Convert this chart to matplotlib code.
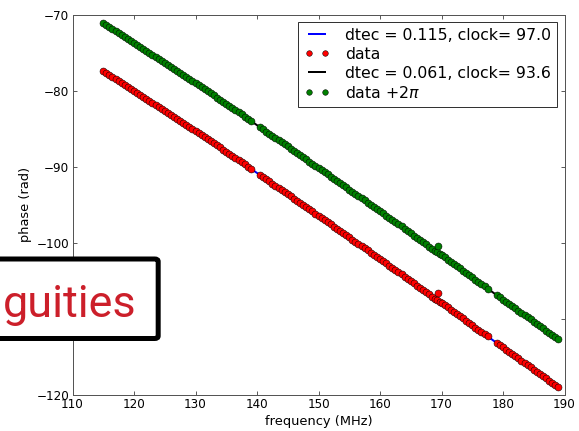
import matplotlib
matplotlib.use("Agg")
import matplotlib.pyplot as plt
from matplotlib.patches import FancyBboxPatch
import numpy as np

# measured phases (rad) versus frequency (MHz)
freq_mhz = [
    115.0, 115.5, 116.0, 116.5, 117.0, 117.5, 118.0, 118.5, 119.0, 119.5,
    120.0, 120.5, 121.0, 121.5, 122.0, 122.5, 123.0, 123.5, 124.0, 124.5,
    125.0, 125.5, 126.0, 126.5, 127.0, 127.5, 128.0, 128.5, 129.0, 129.5,
    130.0, 130.5, 131.0, 131.5, 132.0, 132.5, 133.0, 133.5, 134.0, 134.5,
    135.0, 135.5, 136.0, 136.5, 137.0, 137.5, 138.0, 138.5, 139.0,
    140.5, 141.0, 141.5, 142.0, 142.5, 143.0, 143.5, 144.0, 144.5,
    145.0, 145.5, 146.0, 146.5, 147.0, 147.5, 148.0, 148.5, 149.0, 149.5,
    150.0, 150.5, 151.0, 151.5, 152.0, 152.5, 153.0, 153.5, 154.0, 154.5,
    155.0, 155.5, 156.0, 156.5, 157.0, 157.5, 158.0, 158.5, 159.0, 159.5,
    160.0, 160.5, 161.0, 161.5, 162.0, 162.5, 163.0, 163.5, 164.0, 164.5,
    165.0, 165.5, 166.0, 166.5, 167.0, 167.5, 168.0, 168.5, 169.0, 169.25,
    169.5, 169.75,
    170.0, 170.5, 171.0, 171.5, 172.0, 172.5, 173.0, 173.5, 174.0, 174.5,
    175.0, 175.5, 176.0, 176.5, 177.0, 177.5,
    179.0, 179.5, 180.0, 180.5, 181.0, 181.5, 182.0, 182.5, 183.0, 183.5,
    184.0, 184.5, 185.0, 185.5, 186.0, 186.5, 187.0, 187.5, 188.0, 188.5,
    189.0,
]
phase_rad = [
    -77.41, -77.67, -77.94, -78.21, -78.48, -78.75, -78.95, -79.22, -79.49, -79.76,
    -80.03, -80.31, -80.58, -80.85, -81.05, -81.32, -81.59, -81.87, -82.14, -82.42,
    -82.69, -82.96, -83.15, -83.43, -83.70, -83.98, -84.25, -84.53, -84.80, -85.08,
    -85.25, -85.53, -85.81, -86.09, -86.36, -86.64, -86.92, -87.20, -87.47, -87.75,
    -88.02, -88.30, -88.58, -88.86, -89.14, -89.42, -89.70, -89.98, -90.26,
    -91.10, -91.38, -91.66, -91.94, -92.22, -92.50, -92.78, -93.06, -93.34,
    -93.62, -93.90, -94.19, -94.47, -94.75, -95.03, -95.32, -95.60, -95.88, -96.17,
    -96.45, -96.73, -97.01, -97.30, -97.58, -97.86, -98.15, -98.43, -98.72, -99.00,
    -99.29, -99.57, -99.86, -100.14, -100.43, -100.71, -101.00, -101.28, -101.57, -101.85,
    -102.14, -102.42, -102.71, -102.99, -103.28, -103.56, -103.85, -104.14, -104.43, -104.71,
    -105.00, -105.33, -105.62, -105.91, -106.20, -106.48, -106.77, -107.06, -107.35, -107.50,
    -106.65, -107.79,
    -107.93, -108.21, -108.50, -108.79, -109.08, -109.36, -109.65, -109.94, -110.23, -110.52,
    -110.81, -111.15, -111.44, -111.73, -112.02, -112.30,
    -113.17, -113.46, -113.75, -114.04, -114.33, -114.62, -114.91, -115.20, -115.49, -115.78,
    -116.07, -116.36, -116.65, -116.94, -117.23, -117.53, -117.82, -118.11, -118.40, -118.69,
    -118.98,
]

# fitted models
fit_freq = [115.0, 127.0, 139.0, 151.0, 163.0, 175.0, 178.0, 189.0]
fit1_phase = [-77.41, -83.70, -90.26, -97.01, -103.85, -110.81, -112.59, -118.98]
fit2_phase = [-71.13, -77.42, -83.98, -90.73, -97.57, -104.53, -106.31, -112.70]
fit1_label = "dtec = 0.115, clock= 97.0"
fit2_label = "dtec = 0.061, clock= 93.6"

overlay_text = "guities"


def main() -> None:
    plt.rcParams["font.size"] = 12
    plt.rcParams["axes.linewidth"] = 1.0

    fig = plt.figure(figsize=(579 / 72, 431 / 72), dpi=72)
    ax = fig.add_axes([72.5 / 579, 1 - 395 / 431, 492 / 579, 380.5 / 431])

    phase = np.array(phase_rad)
    mk = dict(ls="none", marker="o", ms=7, mec="k", mew=0.5)

    ax.plot(fit_freq, fit1_phase, color="b", lw=2, label=fit1_label)
    ax.plot(freq_mhz, phase, color="r", mfc="r", label="data", **mk)
    ax.plot(fit_freq, fit2_phase, color="k", lw=2, label=fit2_label)
    ax.plot(freq_mhz, phase + 2 * np.pi, color="g", mfc="g",
            label=r"data +2$\pi$", **mk)

    ax.set_xlim(110, 190)
    ax.set_ylim(-120, -70)
    ax.set_xlabel("frequency (MHz)", fontsize=13)
    ax.set_ylabel("phase (rad)", fontsize=13)
    ax.tick_params(direction="in", top=True, right=True, length=4,
                   colors="#333333", labelcolor="black")
    for sp in ax.spines.values():
        sp.set_color("#555555")

    leg = ax.legend(loc="upper right", fontsize=15.8, numpoints=2,
                    fancybox=False, framealpha=1, labelspacing=0.25,
                    handlelength=1.6, handletextpad=1.0, borderpad=0.4,
                    borderaxespad=0.45, markerscale=0.8)
    leg.get_frame().set_edgecolor("#333333")

    # slide overlay box partly off the left edge
    box = FancyBboxPatch((-0.2, 1 - 338.5 / 431), 160.5 / 579 + 0.2 - 0.004,
                         79.5 / 431, boxstyle="round,pad=0,rounding_size=0.006",
                         transform=fig.transFigure, facecolor="white",
                         edgecolor="black", lw=5, zorder=10, clip_on=False)
    fig.patches.append(box)
    fig.text(3 / 579, 1 - 317 / 431, overlay_text, family="Roboto",
             fontsize=45, color="#cc1f2a", ha="left", va="baseline",
             zorder=11)

    fig.savefig("out.png", dpi=72, facecolor="white")


if __name__ == "__main__":
    main()
